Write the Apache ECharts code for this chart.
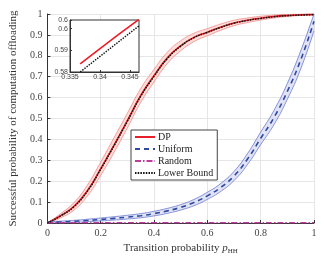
<!DOCTYPE html>
<html>
<head>
<meta charset="utf-8">
<script src="https://cdn.jsdelivr.net/npm/echarts@6/dist/echarts.min.js"></script>
<style>
  html, body { margin: 0; padding: 0; background: #fff; }
  #chart { width: 331px; height: 261px; }
</style>
</head>
<body>
<div id="chart"></div>
<script>
// transition probability p_HH
var pHH = [0, 0.05, 0.1, 0.15, 0.2, 0.25, 0.3, 0.35, 0.4, 0.45, 0.5,
  0.55, 0.6, 0.65, 0.7, 0.75, 0.8, 0.85, 0.9, 0.95, 1];

var dp = [0, 0.035, 0.08, 0.155, 0.26, 0.373, 0.49, 0.61, 0.705, 0.79, 0.848,
  0.888, 0.913, 0.937, 0.957, 0.97, 0.98, 0.988, 0.993, 0.996, 0.998];
var dpHigh = [0, 0.045, 0.098, 0.181, 0.292, 0.408, 0.525, 0.643, 0.735, 0.817, 0.872,
  0.908, 0.930, 0.952, 0.970, 0.981, 0.989, 0.995, 0.998, 0.999, 1.0];
var dpLow = [0, 0.025, 0.062, 0.129, 0.228, 0.338, 0.455, 0.577, 0.675, 0.763, 0.824,
  0.868, 0.896, 0.922, 0.944, 0.959, 0.971, 0.981, 0.988, 0.993, 0.996];

var lowerBound = [0, 0.034, 0.078, 0.152, 0.257, 0.37, 0.487, 0.606, 0.702, 0.787, 0.846,
  0.887, 0.912, 0.936, 0.956, 0.969, 0.979, 0.987, 0.992, 0.995, 0.997];

var uniform = [0.003, 0.005, 0.008, 0.012, 0.017, 0.022, 0.028, 0.035, 0.045, 0.058, 0.075,
  0.098, 0.13, 0.17, 0.225, 0.305, 0.405, 0.505, 0.63, 0.78, 0.965];
var uniHigh = [0.006, 0.009, 0.013, 0.018, 0.024, 0.030, 0.037, 0.045, 0.056, 0.070, 0.088,
  0.113, 0.147, 0.189, 0.247, 0.331, 0.435, 0.539, 0.668, 0.823, 1.0];
var uniLow = [0, 0.001, 0.003, 0.006, 0.010, 0.014, 0.019, 0.025, 0.034, 0.046, 0.062,
  0.083, 0.113, 0.151, 0.203, 0.279, 0.375, 0.471, 0.592, 0.737, 0.92];

var random = [0.001, 0.001, 0.001, 0.001, 0.001, 0.001, 0.001, 0.001, 0.001, 0.001, 0.001,
  0.001, 0.001, 0.001, 0.001, 0.001, 0.001, 0.001, 0.001, 0.001, 0.001];

// zoomed inset
var insetX = [0.3367, 0.34, 0.343, 0.3465];
var insetDP = [0.5838, 0.5908, 0.5971, 0.6043];
var insetLB = [0.5800, 0.5872, 0.5937, 0.6013];

var xTicks = ['0', '0.2', '0.4', '0.6', '0.8', '1'];

function pairs(xs, ys) {
  return xs.map(function (x, i) { return [x, ys[i]] })
}

var serif = 'Liberation Serif, DejaVu Serif, serif'
var chart = echarts.init(document.getElementById('chart'))

// shaded band between lo and hi, plus its two thin edge lines
function band(name, lo, hi, fill, edge) {
  return [
    {
      name: name + '-fill', type: 'custom', data: [0], silent: true, z: 1,
      renderItem: function (params, api) {
        var pts = []
        for (var i = 0; i < pHH.length; i++) pts.push(api.coord([pHH[i], hi[i]]))
        for (var j = pHH.length - 1; j >= 0; j--) pts.push(api.coord([pHH[j], lo[j]]))
        return {
          type: 'polygon',
          shape: { points: pts, smooth: 0.2 },
          style: { fill: fill, stroke: null }
        }
      }
    },
    {
      name: name + '-lo', type: 'line', data: pairs(pHH, lo), smooth: true, symbol: 'none',
      lineStyle: { width: 0.8, color: edge }, silent: true, z: 2
    },
    {
      name: name + '-hi', type: 'line', data: pairs(pHH, hi), smooth: true, symbol: 'none',
      lineStyle: { width: 0.8, color: edge }, silent: true, z: 2
    }
  ]
}

var option = {
  animation: false,
  backgroundColor: '#fff',
  grid: [
    { left: 46, right: 17, top: 14, bottom: 38 },
    { left: 70, top: 20, width: 69, height: 52, show: true, z: 10,
      backgroundColor: '#fff', borderColor: '#333', borderWidth: 1 }
  ],
  legend: {
    data: ['DP', 'Uniform', 'Random', 'Lower Bound'],
    orient: 'vertical',
    left: 131, top: 130,
    itemWidth: 20, itemHeight: 10, itemGap: 2,
    padding: [2, 4, 2, 3],
    borderColor: '#444', borderWidth: 1,
    backgroundColor: '#fff',
    itemStyle: { opacity: 0 },
    textStyle: { fontFamily: serif, fontSize: 10, color: '#222', padding: [0, 0, 0, -2] },
    z: 20
  },
  xAxis: [
    {
      type: 'value', min: 0, max: 1, interval: 0.2,
      name: '{t|Transition probability }{i|p}{s|HH}',
      nameLocation: 'middle', nameGap: 18,
      nameTextStyle: {
        rich: {
          t: { fontFamily: serif, fontSize: 11, color: '#333' },
          i: { fontFamily: serif, fontSize: 11, fontStyle: 'italic', color: '#333' },
          s: { fontFamily: serif, fontSize: 7, color: '#333', padding: [5, 0, 0, 0] }
        }
      },
      axisLine: { lineStyle: { color: '#333' } },
      axisTick: { inside: true, length: 3, lineStyle: { color: '#333' } },
      axisLabel: { fontFamily: serif, fontSize: 10, color: '#444', margin: 5,
        formatter: function (v) { return xTicks[Math.round(v / 0.2)] } },
      splitLine: { lineStyle: { color: '#e6e6e6' } }
    },
    {
      gridIndex: 1, type: 'value', min: 0.335, max: 0.3465, interval: 0.005,
      axisLine: { lineStyle: { color: '#333' } },
      axisTick: { inside: true, length: 2, lineStyle: { color: '#333' } },
      axisLabel: { fontSize: 7, color: '#444', margin: 2,
        formatter: function (v) { return +v.toFixed(3) + '' } },
      splitLine: { show: false }, z: 11
    }
  ],
  yAxis: [
    {
      type: 'value', min: 0, max: 1, interval: 0.1,
      name: 'Successful probability of computation offloading',
      nameLocation: 'middle', nameGap: 23,
      nameTextStyle: { fontFamily: serif, fontSize: 11, color: '#333' },
      axisLine: { show: true, lineStyle: { color: '#333' } },
      axisTick: { show: true, inside: true, length: 3, lineStyle: { color: '#333' } },
      axisLabel: { fontFamily: serif, fontSize: 10, color: '#444', margin: 5,
        formatter: function (v) { return +v.toFixed(1) + '' } },
      splitLine: { lineStyle: { color: '#e6e6e6' } }
    },
    {
      gridIndex: 1, type: 'value', min: 0.58, max: 0.604, interval: 0.01,
      axisLine: { show: true, lineStyle: { color: '#333' } },
      axisTick: { show: true, inside: true, length: 2, lineStyle: { color: '#333' } },
      axisLabel: { fontSize: 7, color: '#444', margin: 2,
        formatter: function (v) { return +v.toFixed(2) + '' } },
      splitLine: { show: false }, z: 11
    }
  ],
  series: [].concat(
    band('dpBand', dpLow, dpHigh, 'rgba(252,190,180,0.5)', 'rgba(238,120,120,0.85)'),
    band('uniBand', uniLow, uniHigh, 'rgba(205,208,238,0.6)', 'rgba(95,110,205,0.9)'),
    [
      { name: 'DP', type: 'line', data: pairs(pHH, dp), smooth: true, symbol: 'none',
        lineStyle: { color: '#e8202a', width: 1.6 }, itemStyle: { color: '#e8202a' }, z: 3 },
      { name: 'Uniform', type: 'line', data: pairs(pHH, uniform), smooth: true, symbol: 'none',
        lineStyle: { color: '#2c4aa0', width: 1.6, type: [5, 4] }, itemStyle: { color: '#2c4aa0' }, z: 3 },
      { name: 'Random', type: 'line', data: pairs(pHH, random), smooth: true, symbol: 'none',
        lineStyle: { color: '#c03c9c', width: 1.6, type: [6, 2, 1.5, 2] }, itemStyle: { color: '#c03c9c' }, z: 3 },
      { name: 'Lower Bound', type: 'line', data: pairs(pHH, lowerBound), smooth: true, symbol: 'none',
        lineStyle: { color: '#111', width: 1.5, type: [1.5, 1.2] }, itemStyle: { color: '#111' }, z: 4 },
      { name: 'inset-dp', type: 'line', xAxisIndex: 1, yAxisIndex: 1, data: pairs(insetX, insetDP),
        symbol: 'none', clip: true, lineStyle: { color: '#ee1c24', width: 1.6 }, z: 12 },
      { name: 'inset-lb', type: 'line', xAxisIndex: 1, yAxisIndex: 1, data: pairs(insetX, insetLB),
        symbol: 'none', clip: true, lineStyle: { color: '#111', width: 1.4, type: [1.5, 1.2] }, z: 12 }
    ]
  )
}

chart.setOption(option)
</script>
</body>
</html>
